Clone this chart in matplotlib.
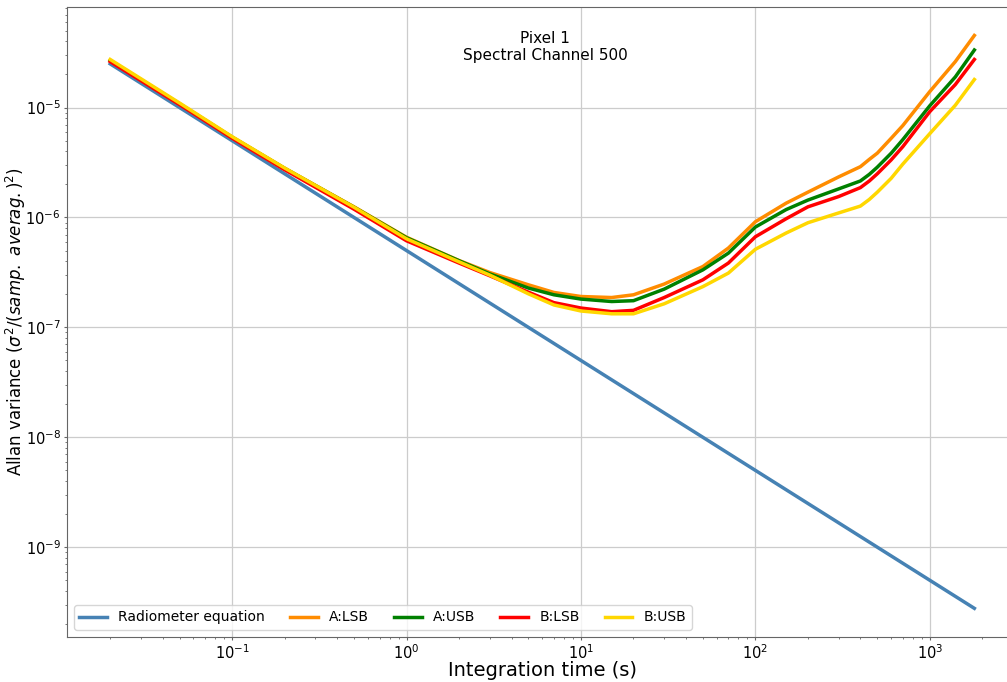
import matplotlib
matplotlib.use("Agg")
import matplotlib.pyplot as plt

# integration times (s)
tau = [0.02, 0.05, 0.1, 0.2, 0.5, 1, 2, 3, 5, 7, 10, 15, 20, 30, 50, 70,
       100, 150, 200, 300, 400, 450, 500, 600, 700, 1000, 1400, 1800]

# Allan variance per IF / sideband
a_lsb = [2.68e-5, 1.08e-5, 5.38e-6, 2.80e-6, 1.25e-6, 6.61e-7, 4.06e-7, 3.16e-7,
         2.44e-7, 2.08e-7, 1.91e-7, 1.87e-7, 1.98e-7, 2.48e-7, 3.58e-7, 5.27e-7,
         9.15e-7, 1.35e-6, 1.70e-6, 2.34e-6, 2.90e-6, 3.38e-6, 3.85e-6, 5.25e-6,
         6.86e-6, 1.40e-5, 2.62e-5, 4.53e-5]
a_usb = [2.68e-5, 1.08e-5, 5.38e-6, 2.80e-6, 1.24e-6, 6.54e-7, 4.04e-7, 3.07e-7,
         2.28e-7, 1.98e-7, 1.81e-7, 1.72e-7, 1.75e-7, 2.23e-7, 3.34e-7, 4.74e-7,
         8.19e-7, 1.18e-6, 1.44e-6, 1.82e-6, 2.15e-6, 2.47e-6, 2.87e-6, 3.84e-6,
         5.11e-6, 1.04e-5, 1.90e-5, 3.34e-5]
b_lsb = [2.62e-5, 1.065e-5, 5.27e-6, 2.72e-6, 1.19e-6, 6.14e-7, 3.85e-7, 2.95e-7,
         2.09e-7, 1.68e-7, 1.50e-7, 1.39e-7, 1.43e-7, 1.87e-7, 2.71e-7, 3.85e-7,
         6.68e-7, 9.74e-7, 1.25e-6, 1.55e-6, 1.87e-6, 2.15e-6, 2.50e-6, 3.34e-6,
         4.41e-6, 9.20e-6, 1.62e-5, 2.74e-5]
b_usb = [2.74e-5, 1.10e-5, 5.44e-6, 2.82e-6, 1.24e-6, 6.40e-7, 3.95e-7, 2.99e-7,
         2.02e-7, 1.60e-7, 1.41e-7, 1.33e-7, 1.33e-7, 1.64e-7, 2.35e-7, 3.12e-7,
         5.14e-7, 7.22e-7, 8.96e-7, 1.10e-6, 1.27e-6, 1.46e-6, 1.70e-6, 2.27e-6,
         3.06e-6, 5.80e-6, 1.05e-5, 1.80e-5]

# ideal radiometer equation, falls as 1/tau
radio_tau = [0.02, 1800]
radio_var = [2.5e-5, 2.78e-10]

fig = plt.figure(figsize=(10.07, 6.82), dpi=100)
# right spine sits just past the edge of the saved canvas
ax = fig.add_axes([0.0665, 0.066, 0.944, 0.924])

ax.loglog(radio_tau, radio_var, color="steelblue", lw=2.5, label="Radiometer equation")
ax.loglog(tau, a_lsb, color="darkorange", lw=2.5, label="A:LSB")
ax.loglog(tau, a_usb, color="green", lw=2.5, label="A:USB")
ax.loglog(tau, b_lsb, color="red", lw=2.5, label="B:LSB")
ax.loglog(tau, b_usb, color="gold", lw=2.5, label="B:USB")

ax.grid(True, which="major", color="#cccccc", lw=0.9)
for s in ax.spines.values():
    s.set_color("0.4")
ax.tick_params(which="major", labelsize=10.5, length=2.5, pad=2, color="0.4")
ax.tick_params(which="minor", length=1.5, color="0.4")
ax.set_xlabel("Integration time (s)", fontsize=14, labelpad=-1)
ax.set_ylabel(r"Allan variance ($\sigma^2/(samp.\ averag.)^2$)", fontsize=12)
ax.yaxis.set_label_coords(-0.041, 0.5)
ax.text(0.503, 0.962, "Pixel 1\nSpectral Channel 500", transform=ax.transAxes,
        ha="center", va="top", fontsize=11)
ax.legend(loc="lower left", ncol=5, fontsize=10, columnspacing=1.8)

fig.savefig("out.png", dpi=100)
